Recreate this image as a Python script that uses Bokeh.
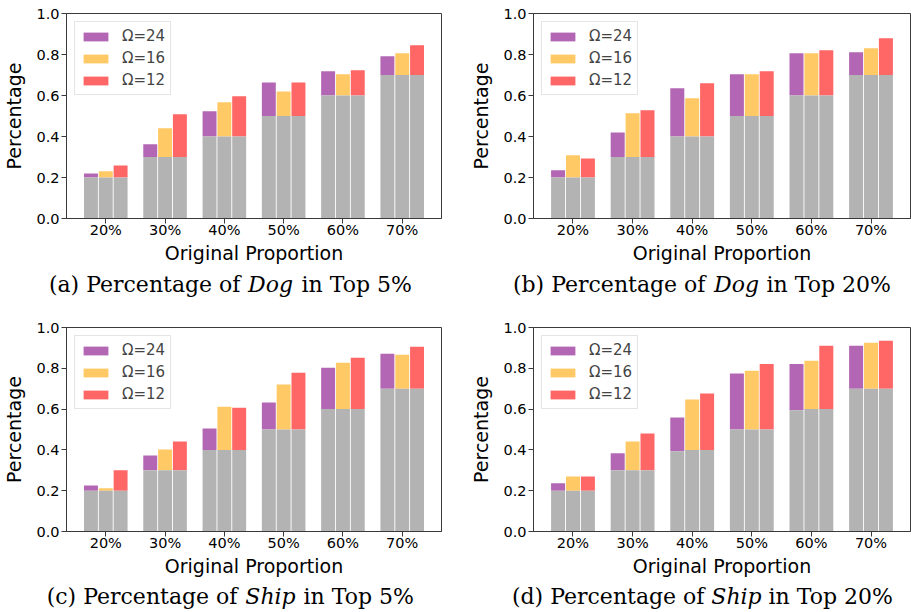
from bokeh.plotting import figure
from bokeh.models import (Range1d, FixedTicker, Legend, LegendItem,
                          ColumnDataSource, NumeralTickFormatter)
from bokeh.core.properties import value
from bokeh.layouts import column, row
from bokeh.embed import file_html
from bokeh.resources import INLINE

# ---------------- data ----------------
cats = ["20%", "30%", "40%", "50%", "60%", "70%"]
yticks = [0.0, 0.2, 0.4, 0.6, 0.8, 1.0]
omega_labels = ["\u03a9=24", "\u03a9=16", "\u03a9=12"]

base = [0.2, 0.3, 0.4, 0.5, 0.6, 0.7]
base_d24 = [0.2, 0.3, 0.393, 0.5, 0.594, 0.7]

a_24 = [0.220, 0.362, 0.523, 0.664, 0.718, 0.792]
a_16 = [0.230, 0.440, 0.567, 0.620, 0.704, 0.806]
a_12 = [0.259, 0.508, 0.596, 0.664, 0.723, 0.845]

b_24 = [0.235, 0.420, 0.635, 0.704, 0.806, 0.811]
b_16 = [0.308, 0.513, 0.586, 0.704, 0.806, 0.831]
b_12 = [0.293, 0.528, 0.660, 0.718, 0.821, 0.879]

c_24 = [0.226, 0.373, 0.505, 0.632, 0.803, 0.871]
c_16 = [0.212, 0.402, 0.612, 0.720, 0.827, 0.866]
c_12 = [0.300, 0.441, 0.607, 0.778, 0.852, 0.906]

d_24 = [0.236, 0.383, 0.559, 0.774, 0.821, 0.910]
d_16 = [0.270, 0.441, 0.647, 0.788, 0.837, 0.925]
d_12 = [0.270, 0.480, 0.676, 0.821, 0.910, 0.935]

captions = [
    ("(a) Percentage of", "Dog", "in Top 5%"),
    ("(b) Percentage of", "Dog", "in Top 20%"),
    ("(c) Percentage of", "Ship", "in Top 5%"),
    ("(d) Percentage of", "Ship", "in Top 20%"),
]

# ---------------- style ----------------
COLORS = ["#b366b3", "#ffc966", "#ff6666"]
GRAY = "#b3b3b3"
SPINE = "#3a3a3a"
OFFSETS = [-0.25, 0.0, 0.25]
BAR_W = 0.235
SANS = "DejaVu Sans"
SERIF = "DejaVu Serif"


def make_panel(width, height, bl, br, bt, bb, series, bases):
    p = figure(width=width, height=height, output_backend="svg", toolbar_location=None,
               title=None,
               x_range=Range1d(-0.6625, 5.6625), y_range=Range1d(0, 1),
               min_border_left=bl, min_border_right=br, min_border_top=bt,
               min_border_bottom=bb)
    p.xgrid.visible = False
    p.ygrid.visible = False
    p.outline_line_color = SPINE
    p.outline_line_width = 1

    items = []
    for k, vals in enumerate(series):
        xs = [i + OFFSETS[k] for i in range(len(cats))]
        src = ColumnDataSource(dict(x=xs, top=vals, bottom=bases[k]))
        r = p.vbar(x="x", width=BAR_W, bottom="bottom", top="top", source=src,
                   fill_color=COLORS[k], line_color=None)
        p.vbar(x="x", width=BAR_W, bottom=0, top="bottom", source=src,
               fill_color=GRAY, line_color=None)
        items.append(LegendItem(label=omega_labels[k], renderers=[r]))

    leg = Legend(items=items, location="top_left", margin=8, padding=5,
                 spacing=4, glyph_width=31, glyph_height=11, label_standoff=11,
                 label_text_font=SANS, label_text_font_size="15px",
                 border_line_color="#cccccc", border_line_width=1,
                 background_fill_alpha=0.85)
    p.add_layout(leg)

    for ax in (p.xaxis[0], p.yaxis[0]):
        ax.axis_line_color = SPINE
        ax.major_tick_line_color = SPINE
        ax.minor_tick_line_color = None
        ax.major_tick_out = 5
        ax.major_tick_in = 0
        ax.major_label_text_font = SANS
        ax.major_label_text_font_size = "14.5px"
        ax.major_label_text_color = "black"
        ax.axis_label_text_font = SANS
        ax.axis_label_text_font_size = "19px"
        ax.axis_label_text_font_style = "normal"
        ax.axis_label_text_color = "black"

    p.xaxis.ticker = FixedTicker(ticks=list(range(len(cats))))
    p.xaxis.major_label_overrides = {i: c for i, c in enumerate(cats)}
    p.xaxis.axis_label = "Original Proportion"
    p.xaxis.major_label_standoff = -2
    p.xaxis.axis_label_standoff = 1

    p.yaxis.ticker = FixedTicker(ticks=yticks)
    p.yaxis.formatter = NumeralTickFormatter(format="0.0")
    p.yaxis.axis_label = "Percentage"
    p.yaxis.major_label_standoff = 2
    p.yaxis.axis_label_standoff = 8
    return p


def make_caption(width, height, cap, right1, mid_c, left3, text_y):
    part1, mid, part3 = cap
    c = figure(width=width, height=height, output_backend="svg", toolbar_location=None,
               title=None,
               x_range=Range1d(0, width), y_range=Range1d(0, height),
               x_axis_type=None, y_axis_type=None,
               min_border_left=0, min_border_right=0, min_border_top=0,
               min_border_bottom=0)
    c.outline_line_color = None
    c.xgrid.visible = False
    c.ygrid.visible = False
    common = dict(text_font=value(SERIF), text_font_size=value("22px"),
                  text_baseline="alphabetic", text_color="black")
    c.text(x=[right1], y=[text_y], text=[part1], text_align="right", **common)
    c.text(x=[mid_c], y=[text_y], text=[mid], text_align="center",
           text_font_style="italic", **common)
    c.text(x=[left3], y=[text_y], text=[part3], text_align="left", **common)
    return c


pa = make_panel(455, 270, 63, 14, 13, 52, [a_24, a_16, a_12], [base, base, base])
pb = make_panel(456, 270, 78, 1, 13, 52, [b_24, b_16, b_12], [base, base, base])
pc = make_panel(455, 280, 63, 14, 27, 49, [c_24, c_16, c_12], [base, base, base])
pd = make_panel(456, 280, 78, 1, 27, 49, [d_24, d_16, d_12], [base_d24, base, base])

ca = make_caption(455, 30, captions[0], 240, 270, 301, 16.3)
cb = make_caption(456, 30, captions[1], 250, 281, 311, 16.3)
cc = make_caption(455, 32, captions[2], 237, 270, 303, 16)
cd = make_caption(456, 32, captions[3], 249, 281, 313, 16)

layout = column(row(pa, pb), row(ca, cb), row(pc, pd), row(cc, cd))
open("out.html", "w").write(file_html(layout, INLINE))
